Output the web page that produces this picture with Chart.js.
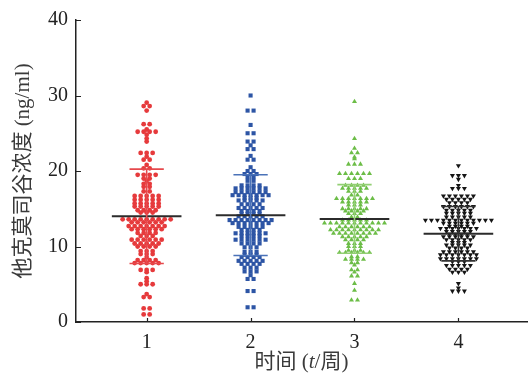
<!DOCTYPE html>
<html>
<head>
<meta charset="utf-8">
<script src="https://cdn.jsdelivr.net/npm/chart.js@4"></script>
<style>
  body { margin: 0; background: #fff; }
</style>
</head>
<body>
<canvas id="myChart" width="531" height="374"></canvas>
<script>
// categories and tick labels
const groups = [1, 2, 3, 4];
const xTickLabels = ['1', '2', '3', '4'];
const yTicks = [0, 10, 20, 30, 40];

// tacrolimus trough concentration per patient (ng/ml)
const week1 = [29.05, 28.6, 28.6, 28.0, 26.2, 26.2, 25.5, 25.2, 25.2, 25.2, 25.2, 24.8, 24.3, 23.9,
    22.4, 22.4, 22.4, 21.9, 21.5, 21.5, 20.8, 20.35, 20.35, 19.5, 19.5, 19.5, 19.5, 19.0, 19.0, 18.7,
    18.3, 18.3, 17.9, 17.9, 17.3, 17.3, 16.7, 16.7, 16.7, 16.7, 16.7, 16.2, 16.2, 16.2, 16.2, 16.2,
    15.7, 15.7, 15.7, 15.7, 15.7, 15.3, 15.3, 15.3, 15.3, 15.3, 14.8, 14.8, 14.8, 14.8, 14.5, 14.5, 14.5,
    13.6, 13.6, 13.6, 13.6, 13.6, 13.6, 13.6, 13.6, 13.6, 13.2, 13.2, 13.2, 13.2, 13.2, 13.2,
    12.7, 12.7, 12.7, 12.7, 12.7, 12.7, 12.7, 12.3, 12.3, 12.3, 12.3, 12.3, 12.3, 11.8, 11.8, 11.8, 11.8,
    11.4, 11.4, 11.4, 10.9, 10.9, 10.9, 10.9, 10.9, 10.9, 10.4, 10.4, 10.4, 10.4, 10.4, 10.0, 10.0, 10.0, 10.0,
    9.4, 9.4, 9.4, 9.0, 9.0, 9.0, 8.6, 8.2, 8.2, 8.2, 8.2, 7.8, 7.8, 7.8, 7.8, 7.8, 6.9, 6.9, 6.9, 6.6,
    5.8, 5.4, 5.0, 5.0, 5.0, 3.7, 3.3, 3.3, 1.8, 1.8, 1.0, 1.0];
const week2 = [30.0, 28.0, 28.0, 26.1, 25.0, 25.0, 23.9, 23.9, 23.4, 22.9, 22.9, 22.0, 21.5, 21.5, 20.5,
    20.0, 20.0, 19.6, 19.6, 19.6, 19.2, 19.2, 18.7, 18.7, 18.1, 18.1, 18.1, 18.1,
    17.7, 17.7, 17.7, 17.7, 17.7, 17.7, 17.2, 17.2, 17.2, 17.2, 17.2, 17.2,
    16.8, 16.8, 16.8, 16.8, 16.8, 16.8, 16.8, 16.45, 16.45, 16.45, 16.1, 16.1, 16.1, 16.1, 16.1,
    15.6, 15.6, 15.6, 15.6, 15.1, 15.1, 15.1, 15.1, 15.1, 14.7, 14.7, 14.7, 14.7, 14.3, 14.3, 14.3, 14.3,
    14.0, 14.0, 14.0, 14.0, 14.0, 13.5, 13.5, 13.5, 13.5, 13.5, 13.5, 13.5, 13.5,
    13.1, 13.1, 13.1, 13.1, 13.1, 13.1, 13.1, 12.6, 12.6, 12.6, 12.6, 12.6, 12.2, 12.2, 12.2, 12.2,
    11.75, 11.75, 11.75, 11.75, 11.75, 11.75, 11.4, 11.4, 11.4, 11.4, 10.9, 10.9, 10.9, 10.9, 10.9, 10.9,
    10.4, 10.4, 10.4, 10.4, 9.9, 9.9, 9.9, 9.3, 9.3, 9.3, 8.9, 8.9, 8.9, 8.6, 8.6, 8.6, 8.6,
    8.1, 8.1, 8.1, 8.1, 8.1, 7.7, 7.7, 7.7, 7.7, 7.2, 7.2, 7.2, 6.7, 6.7, 6.7, 6.2, 5.7, 5.7, 4.1, 4.1, 1.95, 1.95];
const week3 = [29.2, 24.3, 23.0, 22.4, 22.4, 21.85, 21.6, 20.9, 20.9, 20.9, 19.65, 19.65, 19.65, 19.65, 19.65, 19.65,
    19.0, 19.0, 19.0, 18.1, 18.1, 18.1, 18.1, 17.7, 17.7, 17.7, 17.7, 17.7, 17.3, 17.3, 17.3, 16.8, 16.8,
    16.35, 16.35, 16.35, 16.35, 16.35, 16.35, 16.35, 15.9, 15.9, 15.9, 15.9, 15.9, 15.5, 15.5, 15.5,
    15.0, 15.0, 15.0, 15.0, 15.0, 14.7, 14.7, 14.7, 14.7, 14.35, 14.35, 14.35, 13.9, 13.9,
    13.5, 13.5, 13.5, 13.5, 13.5, 13.1, 13.1, 13.1, 13.1, 13.1, 13.1, 13.1, 13.1, 13.1, 13.1, 13.1,
    12.6, 12.6, 12.6, 12.6, 12.6, 12.6, 12.2, 12.2, 12.2, 12.2, 12.2, 12.2, 12.2, 12.2, 12.2,
    11.75, 11.75, 11.75, 11.75, 11.75, 11.75, 11.75, 11.75, 11.3, 11.3, 11.3, 11.3, 11.3,
    10.9, 10.9, 10.9, 10.9, 10.4, 10.4, 10.4, 10.0, 10.0, 10.0, 9.5, 9.5, 9.5, 9.2, 9.2, 9.2, 9.2, 9.2, 9.2,
    8.65, 8.65, 8.3, 8.3, 8.3, 8.3, 7.85, 7.85, 7.55, 6.9, 6.9, 6.6, 6.1, 6.1, 5.1, 4.2, 2.9, 2.9];
const week4 = [20.7, 19.4, 19.4, 19.4, 18.9, 18.1, 17.7, 17.7, 17.7, 16.7, 16.7, 16.7, 16.7, 16.7, 16.7,
    16.25, 16.25, 16.25, 16.25, 16.25, 15.8, 15.8, 15.8, 15.8, 15.3, 15.3, 15.3, 15.3, 15.3, 15.3,
    14.8, 14.8, 14.8, 14.8, 14.8, 14.4, 14.4, 14.4, 14.4, 14.4, 13.9, 13.9, 13.9, 13.9, 13.9,
    13.5, 13.5, 13.5, 13.5, 13.5, 13.5, 13.5, 13.5, 13.5, 13.5, 13.5, 13.5, 13.1, 13.1, 13.1, 13.1, 13.1, 13.1,
    12.7, 12.7, 12.7, 12.7, 12.4, 12.4, 12.4, 12.4, 12.4, 12.4, 12.4, 12.0, 12.0, 12.0, 12.0, 12.0,
    11.65, 11.65, 11.65, 11.65, 11.3, 11.3, 11.3, 11.3, 11.3, 11.3, 10.9, 10.9, 10.9, 10.9, 10.9,
    10.55, 10.55, 10.55, 10.2, 10.2, 10.2, 10.2, 10.2, 9.8, 9.8, 9.8, 9.8, 9.3, 9.3, 9.3, 9.3, 9.3, 9.3,
    8.9, 8.9, 8.9, 8.9, 8.9, 8.9, 8.9, 8.4, 8.4, 8.4, 8.4, 8.4, 8.4, 8.4, 8.0, 8.0, 8.0,
    7.5, 7.5, 7.5, 7.5, 7.5, 7.0, 7.0, 7.0, 7.0, 6.6, 6.6, 6.6, 5.1, 4.5, 4.1, 4.1, 4.1];
const seriesValues = [week1, week2, week3, week4];

// mean and SD shown by the bars
const means = [14.0, 14.15, 13.65, 11.7];
const sds = [6.25, 5.35, 4.55, 3.6];

const pointColors = ['#e63a3c', '#2d55a5', '#6cbd47', '#151515'];
const sdColors = ['#e6494c', '#4a72b8', '#93cf74', '#333333'];
const pointStyles = ['circle', 'rect', 'triangle', 'triangle'];
const pointRadii = [2.4, 2.9, 2.9, 2.9];
const pointRotations = [0, 0, 0, 180];

const FONT = '"Liberation Serif", "Noto Sans CJK SC", serif';

// beeswarm layout like Prism: values in the same row are spread sideways
function swarmOffsets(values, pxPerX, spacing) {
    let idx = values.map((v, i) => i).sort((a, b) => values[b] - values[a]);
    let offsets = new Array(values.length).fill(0);
    let row = [];
    let flush = () => {
        row.forEach((i, k) => offsets[i] = (k - (row.length - 1) / 2) * spacing / pxPerX);
        row = [];
    };
    idx.forEach(i => {
        if (row.length && values[row[0]] - values[i] > 0.22) flush();
        row.push(i);
    });
    flush();
    return offsets;
}

function barLine(points, color, width) {
    return {
        type: 'line',
        data: points,
        borderColor: color,
        borderWidth: width,
        pointRadius: 0,
        showLine: true,
        fill: false,
        order: 0
    };
}

let datasets = [];
groups.forEach((g, k) => {
    datasets.push({
        type: 'scatter',
        data: seriesValues[k].map(v => ({ x: g, y: v })),
        backgroundColor: pointColors[k],
        borderColor: pointColors[k],
        borderWidth: 0,
        pointStyle: pointStyles[k],
        pointRadius: pointRadii[k],
        pointRotation: pointRotations[k],
        pointHoverRadius: pointRadii[k],
        order: 1
    });
});
groups.forEach((g, k) => {
    let m = means[k], s = sds[k];
    datasets.push(barLine([{ x: g, y: m - s }, { x: g, y: m + s }], sdColors[k], 1.6));
    datasets.push(barLine([{ x: g - 0.165, y: m + s }, { x: g + 0.165, y: m + s }], sdColors[k], 1.6));
    datasets.push(barLine([{ x: g - 0.165, y: m - s }, { x: g + 0.165, y: m - s }], sdColors[k], 1.6));
    datasets.push(barLine([{ x: g - 0.335, y: m }, { x: g + 0.335, y: m }], '#2b2b2b', 2));
});

const axisExtras = {
    id: 'axisExtras',
    afterDraw(chart) {
        const { ctx, chartArea, scales } = chart;
        ctx.save();
        ctx.strokeStyle = '#222';
        ctx.lineWidth = 1.2;
        ctx.beginPath();
        yTicks.forEach(v => {
            let y = Math.round(scales.y.getPixelForValue(v)) + 0.5;
            ctx.moveTo(chartArea.left, y);
            ctx.lineTo(chartArea.left + 5, y);
        });
        groups.forEach(g => {
            let x = Math.round(scales.x.getPixelForValue(g)) + 0.5;
            ctx.moveTo(x, chartArea.bottom);
            ctx.lineTo(x, chartArea.bottom - 4);
        });
        ctx.stroke();

        ctx.fillStyle = '#3a3a3a';
        ctx.textBaseline = 'alphabetic';
        // x title: 时间 (t/周) with italic t
        let parts = [['时间 (', '21px ' + FONT], ['t', 'italic 21px "Liberation Serif"'], ['/周)', '21px ' + FONT]];
        let total = 0;
        parts.forEach(p => { ctx.font = p[1]; total += ctx.measureText(p[0]).width; });
        let x = (chartArea.left + chartArea.right) / 2 - total / 2;
        parts.forEach(p => {
            ctx.font = p[1];
            ctx.textAlign = 'left';
            ctx.fillText(p[0], x, 368);
            x += ctx.measureText(p[0]).width;
        });
        // y title
        ctx.translate(29, (chartArea.top + chartArea.bottom) / 2);
        ctx.rotate(-Math.PI / 2);
        ctx.font = '21px ' + FONT;
        ctx.textAlign = 'center';
        ctx.fillText('他克莫司谷浓度 (ng/ml)', 0, 0);
        ctx.restore();
    }
};

let ctx = document.getElementById('myChart').getContext('2d');
let chart = new Chart(ctx, {
    data: { datasets: datasets },
    options: {
        responsive: false,
        animation: false,
        layout: { padding: { top: 20, right: 4, left: 0, bottom: 0 } },
        plugins: { legend: { display: false }, tooltip: { enabled: false } },
        scales: {
            x: {
                type: 'linear',
                min: 0.32,
                max: 4.66,
                afterBuildTicks: scale => { scale.ticks = groups.map(v => ({ value: v })); },
                afterFit: scale => { scale.height = 52; },
                ticks: {
                    callback: (v) => xTickLabels[groups.indexOf(v)],
                    font: { family: FONT, size: 20 },
                    color: '#222',
                    padding: 9,
                    maxRotation: 0
                },
                grid: { display: false, drawTicks: false },
                border: { display: true, color: '#222', width: 1.5 }
            },
            y: {
                min: 0,
                max: 40,
                afterBuildTicks: scale => { scale.ticks = yTicks.map(v => ({ value: v })); },
                afterFit: scale => { scale.width = 76; },
                ticks: {
                    font: { family: FONT, size: 20 },
                    color: '#222',
                    padding: 8
                },
                grid: { display: false, drawTicks: false },
                border: { display: true, color: '#222', width: 1.5 }
            }
        }
    },
    plugins: [axisExtras]
});

// spread the points sideways now that the scale is known
let pxPerX = chart.scales.x.getPixelForValue(1) - chart.scales.x.getPixelForValue(0);
groups.forEach((g, k) => {
    let offs = swarmOffsets(seriesValues[k], pxPerX, 6);
    chart.data.datasets[k].data = seriesValues[k].map((v, i) => ({ x: g + offs[i], y: v }));
});
chart.update('none');
</script>
</body>
</html>
